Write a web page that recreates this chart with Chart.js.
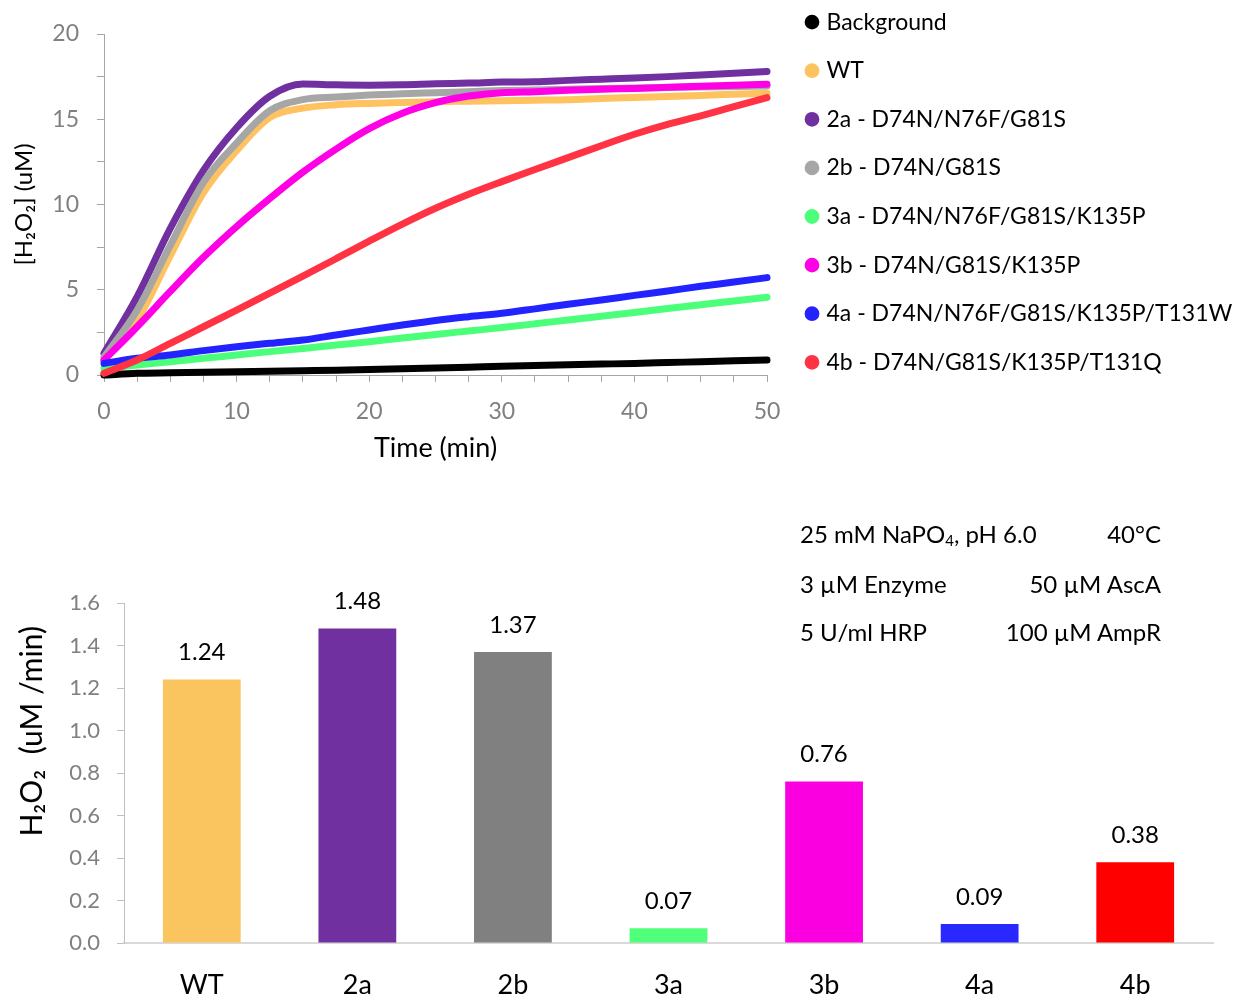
<!DOCTYPE html>
<html>
<head>
<meta charset="utf-8">
<title>H2O2 production by cutinase variants</title>
<script src="https://cdn.jsdelivr.net/npm/chart.js@4.4.1/dist/chart.umd.min.js"></script>
<style>
  html, body { margin: 0; padding: 0; background: #fff; }
  body { width: 1233px; height: 997px; position: relative; overflow: hidden; font-family: Lato, sans-serif; }
  #timeWrap { position: absolute; left: 0; top: -15px; width: 1233px; height: 488px; }
  #rateWrap { position: absolute; left: 0; top: 473px; width: 1233px; height: 524px; }
  .cond { position: absolute; font-size: 24px; line-height: 24px; color: #000; white-space: nowrap; }
  .cond sub { font-size: 15px; vertical-align: -3px; line-height: 0; }
</style>
</head>
<body>
<div id="timeWrap"><canvas id="timeCourse"></canvas></div>
<div id="rateWrap"><canvas id="rates"></canvas></div>

<div class="cond" style="left:800px; top:522px;">25 mM NaPO<sub>4</sub>, pH 6.0</div>
<div class="cond" style="right:72px; top:522px;">40°C</div>
<div class="cond" style="left:800px; top:572px;">3 µM Enzyme</div>
<div class="cond" style="right:72px; top:572px;">50 µM AscA</div>
<div class="cond" style="left:800px; top:620px;">5 U/ml HRP</div>
<div class="cond" style="right:72px; top:620px;">100 µM AmpR</div>

<script>
// ---- time course (min) and [H2O2] (uM) per sample ----
const times = [0, 2.5, 5, 7.5, 10, 12.5, 15, 17.5, 20, 22.5, 25, 27.5, 30, 32.5, 35, 37.5, 40, 42.5, 45, 47.5, 50];

const background = [0.0, 0.1, 0.13, 0.16, 0.19, 0.22, 0.25, 0.28, 0.32, 0.36, 0.41, 0.46, 0.52, 0.56, 0.6, 0.64, 0.68, 0.73, 0.78, 0.83, 0.88];
const wt         = [0.85, 3.2, 7.0, 10.7, 13.15, 15.1, 15.65, 15.85, 15.93, 15.98, 16.03, 16.06, 16.09, 16.12, 16.15, 16.22, 16.28, 16.34, 16.4, 16.46, 16.52];
const v2a        = [1.27, 4.6, 8.6, 12.0, 14.5, 16.35, 17.07, 17.02, 17.0, 17.02, 17.08, 17.12, 17.18, 17.2, 17.28, 17.35, 17.42, 17.5, 17.6, 17.7, 17.8];
const v2b        = [1.05, 3.8, 7.6, 11.3, 13.6, 15.5, 16.15, 16.3, 16.42, 16.5, 16.56, 16.62, 16.68, 16.72, 16.76, 16.8, 16.83, 16.86, 16.89, 16.92, 16.95];
const v3a        = [0.39, 0.59, 0.78, 0.98, 1.17, 1.37, 1.56, 1.76, 1.95, 2.17, 2.38, 2.58, 2.78, 3.0, 3.23, 3.45, 3.67, 3.9, 4.12, 4.34, 4.56];
const v3b        = [0.88, 2.83, 4.9, 6.9, 8.7, 10.35, 11.9, 13.25, 14.45, 15.35, 15.97, 16.36, 16.56, 16.62, 16.7, 16.76, 16.81, 16.87, 16.93, 16.99, 17.05];
const v4a        = [0.68, 0.98, 1.17, 1.43, 1.66, 1.86, 2.05, 2.35, 2.64, 2.93, 3.2, 3.42, 3.62, 3.88, 4.15, 4.4, 4.67, 4.93, 5.2, 5.45, 5.71];
const v4b        = [0.1, 0.88, 1.86, 2.83, 3.81, 4.8, 5.8, 6.82, 7.85, 8.85, 9.78, 10.6, 11.34, 12.05, 12.75, 13.45, 14.12, 14.7, 15.2, 15.74, 16.27];

const seriesNames = [
  'Background',
  'WT',
  '2a - D74N/N76F/G81S',
  '2b - D74N/G81S',
  '3a - D74N/N76F/G81S/K135P',
  '3b - D74N/G81S/K135P',
  '4a - D74N/N76F/G81S/K135P/T131W',
  '4b - D74N/G81S/K135P/T131Q'
];
const seriesValues = [background, wt, v2a, v2b, v3a, v3b, v4a, v4b];
const lineColors = ['#000000', '#FFC260', '#7030A0', '#A6A6A6', '#4CFF7A', '#FF00E6', '#2323FF', '#FF3344'];

// axis ticks of the time course
const timeTicks  = [0, 2.5, 5, 7.5, 10, 12.5, 15, 17.5, 20, 22.5, 25, 27.5, 30, 32.5, 35, 37.5, 40, 42.5, 45, 47.5, 50];
const timeLabels = ['0', '', '', '', '10', '', '', '', '20', '', '', '', '30', '', '', '', '40', '', '', '', '50'];
const concTicks  = [0, 2.5, 5, 7.5, 10, 12.5, 15, 17.5, 20];
const concLabels = ['0', '', '5', '', '10', '', '15', '', '20'];

// ---- initial rates (uM/min) ----
const variants  = ['WT', '2a', '2b', '3a', '3b', '4a', '4b'];
const rates     = [1.24, 1.48, 1.37, 0.07, 0.76, 0.09, 0.38];
const barColors = ['#FAC45E', '#7030A0', '#808080', '#50FF7A', '#FA00E1', '#2828FF', '#FF0000'];
const rateTicks = [0, 0.2, 0.4, 0.6, 0.8, 1.0, 1.2, 1.4, 1.6];

const FONT = 'Lato';
const tickGrey = '#808080';

// ---------------- time course chart ----------------
const lineSets = seriesNames.map((name, i) => ({
  label: name,
  data: times.map((t, k) => ({ x: t, y: seriesValues[i][k] })),
  borderColor: lineColors[i],
  backgroundColor: lineColors[i],
  borderWidth: 7,
  borderCapStyle: 'round',
  borderJoinStyle: 'round',
  pointRadius: 0,
  pointHoverRadius: 0,
  cubicInterpolationMode: 'monotone',
  fill: false,
  clip: false,
  xAxisID: 'x',
  yAxisID: 'y',
  order: seriesNames.length - i
}));

new Chart(document.getElementById('timeCourse'), {
  type: 'line',
  data: { datasets: lineSets },
  options: {
    responsive: true,
    maintainAspectRatio: false,
    animation: false,
    layout: { padding: 0 },
    plugins: {
      tooltip: { enabled: false },
      legend: {
        position: 'right',
        align: 'start',
        maxWidth: 449.6,
        labels: {
          usePointStyle: true,
          pointStyle: 'circle',
          boxWidth: 6,
          boxHeight: 5.5,
          padding: 25.6,
          color: '#000',
          font: { family: FONT, size: 23 },
          sort: (a, b) => a.datasetIndex - b.datasetIndex
        }
      }
    },
    scales: {
      x: {
        type: 'linear',
        position: 'bottom',
        min: 0, max: 50,
        afterBuildTicks: s => { s.ticks = timeTicks.map(v => ({ value: v })); },
        ticks: {
          autoSkip: false, maxRotation: 0,
          callback: (v, idx) => timeLabels[idx],
          color: tickGrey, font: { family: FONT, size: 23 }, padding: 16
        },
        grid: { display: true, drawOnChartArea: false, drawTicks: true, tickLength: 7, color: '#A6A6A6' },
        border: { display: true, color: '#A6A6A6', width: 1 },
        title: { display: true, text: 'Time (min)', color: '#000', font: { family: FONT, size: 27 }, padding: { top: 0, bottom: 9 } },
        afterFit: s => { s.height = 98; }
      },
      y: {
        type: 'linear',
        position: 'left',
        min: 0, max: 20,
        afterBuildTicks: s => { s.ticks = concTicks.map(v => ({ value: v })); },
        ticks: {
          autoSkip: false,
          callback: (v, idx) => concLabels[idx],
          color: tickGrey, font: { family: FONT, size: 23 }, padding: 18
        },
        grid: { display: true, drawOnChartArea: false, drawTicks: true, tickLength: 7, color: '#A6A6A6' },
        border: { display: true, color: '#A6A6A6', width: 1 },
        title: { display: true, text: '[H₂O₂] (uM)', color: '#000', font: { family: FONT, size: 24 }, padding: { top: 10, bottom: 0 } },
        afterFit: s => { s.width = 104; }
      },
      // empty spacer boxes that keep the plot clear of the legend and canvas top
      gapRight: {
        type: 'linear', position: 'right', display: true,
        grid: { display: false }, ticks: { display: false }, border: { display: false },
        afterFit: s => { s.width = 16.4; }
      },
      gapTop: {
        type: 'linear', position: 'top', display: true,
        grid: { display: false }, ticks: { display: false }, border: { display: false },
        afterFit: s => { s.height = 49; }
      }
    }
  }
});

// ---------------- rate bar chart ----------------
const barValueLabels = {
  id: 'barValueLabels',
  afterDatasetsDraw(chart) {
    const meta = chart.getDatasetMeta(0);
    const ctx = chart.ctx;
    ctx.save();
    ctx.font = '24px ' + FONT;
    ctx.fillStyle = '#000';
    ctx.textAlign = 'center';
    ctx.textBaseline = 'middle';
    meta.data.forEach((bar, i) => {
      ctx.fillText(rates[i].toFixed(2), bar.x, bar.y - 27);
    });
    ctx.restore();
  }
};

new Chart(document.getElementById('rates'), {
  type: 'bar',
  data: {
    labels: variants,
    datasets: [{
      data: rates,
      backgroundColor: barColors,
      borderWidth: 0,
      categoryPercentage: 1.0,
      barPercentage: 0.5
    }]
  },
  plugins: [barValueLabels],
  options: {
    responsive: true,
    maintainAspectRatio: false,
    animation: false,
    layout: { padding: { top: 130, right: 20, left: 0, bottom: 0 } },
    plugins: { legend: { display: false }, tooltip: { enabled: false } },
    scales: {
      x: {
        grid: { display: false, drawTicks: false },
        border: { display: true, color: '#D9D9D9', width: 2 },
        ticks: { color: '#000', font: { family: FONT, size: 27 }, padding: 26 },
        afterFit: s => { s.height = 54; }
      },
      y: {
        min: 0, max: 1.6,
        afterBuildTicks: s => { s.ticks = rateTicks.map(v => ({ value: v })); },
        ticks: {
          autoSkip: false,
          callback: (v, idx) => rateTicks[idx].toFixed(1),
          color: tickGrey, font: { family: FONT, size: 22 }, padding: 17
        },
        grid: { display: true, drawOnChartArea: false, drawTicks: true, tickLength: 7, color: '#BFBFBF' },
        border: { display: true, color: '#BFBFBF', width: 1 },
        title: { display: true, align: 'end', text: 'H₂O₂  (uM /min)   ', color: '#000', font: { family: FONT, size: 30 }, padding: { top: 14, bottom: 0 } },
        afterFit: s => { s.width = 124; }
      }
    }
  }
});
</script>
</body>
</html>
